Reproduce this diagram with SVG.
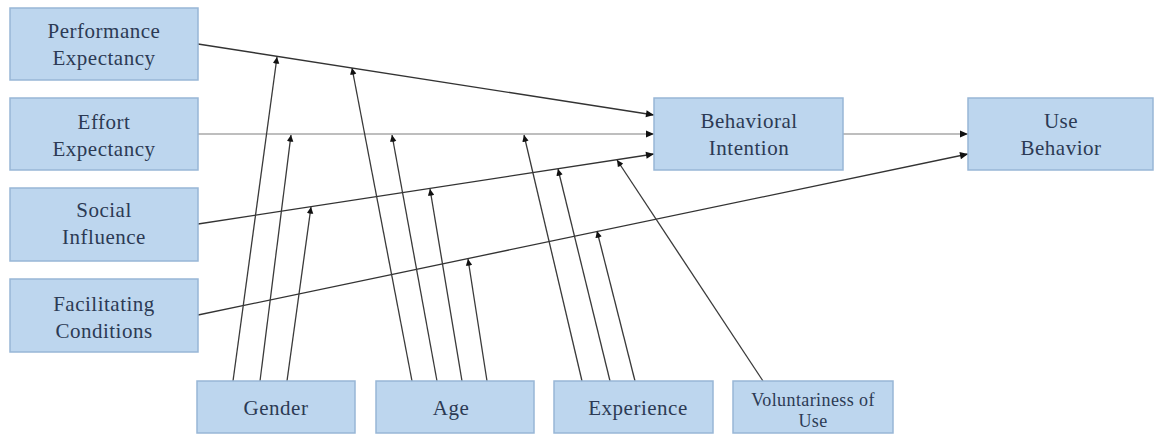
<svg xmlns="http://www.w3.org/2000/svg" width="1155" height="435" viewBox="0 0 1155 435">
  <style>
    .box { fill: #bdd6ee; stroke: #98b6d6; stroke-width: 1.5; }
    .lbl { font-family: "Liberation Serif", "Times New Roman", serif; font-size: 21px; letter-spacing: 0.5px; fill: #2c3a54; text-anchor: middle; }
    .sm { font-size: 18px; letter-spacing: 0.4px; }
    .edge { fill: none; stroke: #333; stroke-width: 1.3; marker-end: url(#arrow); }
    .edge.light { stroke: #a8a8a8; stroke-width: 1.6; }
    .mod { fill: none; stroke: #3a3a3a; stroke-width: 1.3; marker-end: url(#tip); }
  </style>
  <defs>
    <marker id="arrow" viewBox="0 0 10 10" refX="10" refY="5" markerWidth="10" markerHeight="8" markerUnits="userSpaceOnUse" orient="auto">
      <path d="M0,0.5 L10,5 L0,9.5 Z" fill="#111"/>
    </marker>
    <marker id="tip" viewBox="0 0 10 10" refX="10" refY="5" markerWidth="9" markerHeight="7" markerUnits="userSpaceOnUse" orient="auto">
      <path d="M1,0.5 Q-0.5,5 1,9.5 L10,5 Z" fill="#111"/>
    </marker>
  </defs>

  <!-- connectors -->
  <g id="connectors">
    <!-- main paths -->
    <line class="edge" x1="198" y1="44" x2="654" y2="115"/>
    <line class="edge light" x1="198" y1="134" x2="654" y2="134"/>
    <line class="edge" x1="198" y1="224" x2="654" y2="154"/>
    <line class="edge" x1="198" y1="315" x2="968" y2="154"/>
    <line class="edge light" x1="843" y1="134" x2="968" y2="134"/>
    <!-- gender moderation -->
    <line class="mod" x1="233" y1="381" x2="277" y2="57"/>
    <line class="mod" x1="260" y1="381" x2="291" y2="135"/>
    <line class="mod" x1="287" y1="381" x2="311" y2="207"/>
    <!-- age moderation -->
    <line class="mod" x1="412" y1="381" x2="352" y2="68"/>
    <line class="mod" x1="437" y1="381" x2="392" y2="135"/>
    <line class="mod" x1="462" y1="381" x2="430" y2="189"/>
    <line class="mod" x1="487" y1="381" x2="468" y2="259"/>
    <!-- experience moderation -->
    <line class="mod" x1="582" y1="381" x2="524" y2="135"/>
    <line class="mod" x1="610" y1="381" x2="558" y2="169"/>
    <line class="mod" x1="635" y1="381" x2="597" y2="231"/>
    <!-- voluntariness moderation -->
    <line class="mod" x1="763" y1="381" x2="617" y2="160"/>
  </g>

  <g id="performance-expectancy">
    <rect class="box" x="10" y="8" width="188" height="72"/>
    <text class="lbl" x="104" y="38">Performance</text>
    <text class="lbl" x="104" y="65">Expectancy</text>
  </g>
  <g id="effort-expectancy">
    <rect class="box" x="10" y="98" width="188" height="72"/>
    <text class="lbl" x="104" y="129">Effort</text>
    <text class="lbl" x="104" y="156">Expectancy</text>
  </g>
  <g id="social-influence">
    <rect class="box" x="10" y="188" width="188" height="73"/>
    <text class="lbl" x="104" y="217">Social</text>
    <text class="lbl" x="104" y="244">Influence</text>
  </g>
  <g id="facilitating-conditions">
    <rect class="box" x="10" y="279" width="188" height="73"/>
    <text class="lbl" x="104" y="311">Facilitating</text>
    <text class="lbl" x="104" y="338">Conditions</text>
  </g>
  <g id="behavioral-intention">
    <rect class="box" x="654" y="98" width="189" height="72"/>
    <text class="lbl" x="749" y="128">Behavioral</text>
    <text class="lbl" x="749" y="155">Intention</text>
  </g>
  <g id="use-behavior">
    <rect class="box" x="968" y="98" width="185" height="72"/>
    <text class="lbl" x="1061" y="128">Use</text>
    <text class="lbl" x="1061" y="155">Behavior</text>
  </g>
  <g id="gender">
    <rect class="box" x="197" y="381" width="158" height="52"/>
    <text class="lbl" x="276" y="415">Gender</text>
  </g>
  <g id="age">
    <rect class="box" x="376" y="381" width="158" height="52"/>
    <text class="lbl" x="451" y="415">Age</text>
  </g>
  <g id="experience">
    <rect class="box" x="554" y="381" width="159" height="52"/>
    <text class="lbl" x="638" y="415">Experience</text>
  </g>
  <g id="voluntariness-of-use">
    <rect class="box" x="733" y="381" width="160" height="52"/>
    <text class="lbl sm" x="813" y="406">Voluntariness of</text>
    <text class="lbl sm" x="813" y="427">Use</text>
  </g>
</svg>
